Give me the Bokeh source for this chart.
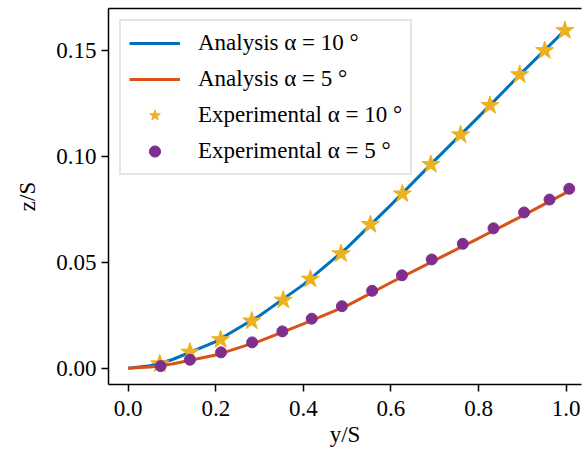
from bokeh.plotting import figure
from bokeh.models import Range1d, LinearAxis, FixedTicker, PrintfTickFormatter, Legend, LegendItem
from bokeh.embed import file_html
from bokeh.resources import INLINE

# Analysis curves (spanwise station y/S vs. vertical deflection z/S)
y_analysis = [0.0, 0.05, 0.1, 0.2, 0.3, 0.4, 0.5, 0.6, 0.7, 0.8, 0.9, 1.0]
z_analysis_10 = [0.0, 0.0012, 0.0040, 0.0126, 0.0248, 0.0395, 0.0570, 0.0772, 0.0982, 0.1188, 0.1399, 0.1603]
z_analysis_5 = [0.0, 0.0006, 0.0020, 0.0062, 0.0128, 0.0210, 0.0296, 0.0405, 0.0510, 0.0614, 0.0720, 0.0830]

# Experimental measurements
y_exp_10 = [0.072, 0.141, 0.211, 0.282, 0.354, 0.416, 0.486, 0.553, 0.626, 0.691, 0.759, 0.826, 0.894, 0.951, 0.997]
z_exp_10 = [0.0021, 0.0076, 0.0135, 0.0223, 0.0322, 0.0421, 0.0541, 0.0679, 0.0824, 0.0963, 0.1103, 0.1242, 0.1387, 0.1501, 0.1596]
y_exp_5 = [0.074, 0.141, 0.212, 0.283, 0.352, 0.419, 0.488, 0.557, 0.625, 0.693, 0.764, 0.834, 0.904, 0.962, 1.007]
z_exp_5 = [0.0010, 0.0040, 0.0075, 0.0122, 0.0174, 0.0234, 0.0293, 0.0366, 0.0439, 0.0514, 0.0588, 0.0661, 0.0736, 0.0797, 0.0848]

x_ticks = [0.0, 0.2, 0.4, 0.6, 0.8, 1.0]
y_ticks = [0.0, 0.05, 0.10, 0.15]

labels = ["Analysis \u03b1 = 10 \u00b0", "Analysis \u03b1 = 5 \u00b0",
          "Experimental \u03b1 = 10 \u00b0", "Experimental \u03b1 = 5 \u00b0"]

BLUE = "#0072BD"
ORANGE = "#D95319"
GOLD = "#EDB120"
PURPLE = "#7E2F8E"
FONT = "Times New Roman"
FS = "23px"

p = figure(width=582, height=459, output_backend="svg", toolbar_location=None,
           x_range=Range1d(-0.045, 1.035), y_range=Range1d(-0.0077, 0.170),
           min_border_left=108, min_border_right=1, min_border_top=8, min_border_bottom=75)
p.outline_line_color = None
p.grid.visible = False
p.background_fill_color = "white"
p.border_fill_color = "white"

def style_axis(ax):
    ax.axis_line_color = "black"
    ax.axis_line_width = 1.5
    ax.major_tick_line_color = "black"
    ax.major_tick_line_width = 1.5
    ax.major_tick_out = 7
    ax.major_tick_in = 0
    ax.minor_tick_line_color = None
    ax.major_label_text_font = FONT
    ax.major_label_text_font_size = FS
    ax.major_label_text_color = "black"
    ax.axis_label_text_font = FONT
    ax.axis_label_text_font_size = FS
    ax.axis_label_text_font_style = "normal"
    ax.axis_label_text_color = "black"

xaxis = p.xaxis[0]
xaxis.axis_label = "y/S"
xaxis.ticker = FixedTicker(ticks=x_ticks)
xaxis.formatter = PrintfTickFormatter(format="%.1f")
style_axis(xaxis)
xaxis.major_label_standoff = 9
xaxis.axis_label_standoff = 3

yaxis = p.yaxis[0]
yaxis.axis_label = "z/S"
yaxis.ticker = FixedTicker(ticks=y_ticks)
yaxis.formatter = PrintfTickFormatter(format="%.2f")
style_axis(yaxis)
yaxis.major_label_standoff = 5
yaxis.axis_label_standoff = 13

# top frame edge only
top = LinearAxis(ticker=FixedTicker(ticks=[]))
top.axis_line_color = "black"
top.axis_line_width = 1.5
top.major_label_text_font = FONT
top.major_tick_line_color = None
top.minor_tick_line_color = None
p.add_layout(top, "above")

r1 = p.line(y_analysis, z_analysis_10, line_color=BLUE, line_width=3)
r2 = p.line(y_analysis, z_analysis_5, line_color=ORANGE, line_width=3)
r3 = p.scatter(y_exp_10, z_exp_10, marker="star", size=19, fill_color=GOLD, line_color=GOLD)
r4 = p.scatter(y_exp_5, z_exp_5, marker="circle", size=11, fill_color=PURPLE, line_color=PURPLE)

legend = Legend(items=[LegendItem(label=labels[0], renderers=[r1]),
                       LegendItem(label=labels[1], renderers=[r2]),
                       LegendItem(label=labels[2], renderers=[r3]),
                       LegendItem(label=labels[3], renderers=[r4])],
                location="top_left")
legend.margin = 11
legend.padding = 8
legend.spacing = 8
legend.glyph_width = 51
legend.glyph_height = 28
legend.label_height = 28
legend.label_standoff = 18
legend.label_text_font = FONT
legend.label_text_font_size = FS
legend.label_text_color = "black"
legend.border_line_color = "#cccccc"
legend.border_line_width = 2
legend.background_fill_color = "white"
legend.background_fill_alpha = 0.8
p.add_layout(legend, "center")

open("out.html", "w").write(file_html(p, INLINE))
